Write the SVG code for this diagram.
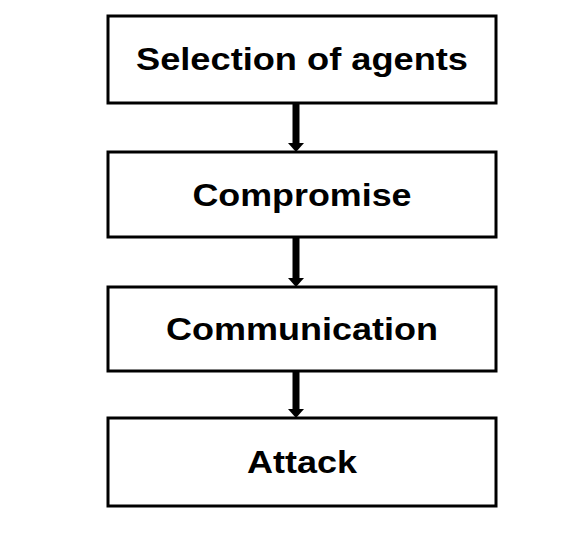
<svg xmlns="http://www.w3.org/2000/svg" width="572" height="542" viewBox="0 0 572 542">
<style>
.box{fill:#fff;stroke:#000;stroke-width:3}
.lbl{font-family:"Liberation Sans",Arial,sans-serif;font-weight:bold;font-size:32px;fill:#000;text-anchor:middle}
.shaft{stroke:#000;stroke-width:7;fill:none}
.head{fill:#000}
</style>
<rect width="572" height="542" fill="#fff"/>
<g id="connectors">
<line class="shaft" x1="296" y1="103" x2="296" y2="145"/>
<polygon class="head" points="288,143 304,143 296,152"/>
<line class="shaft" x1="296" y1="237" x2="296" y2="280"/>
<polygon class="head" points="288,278 304,278 296,287"/>
<line class="shaft" x1="296" y1="371" x2="296" y2="411"/>
<polygon class="head" points="288,409 304,409 296,418"/>
</g>
<g id="n1">
<rect class="box" x="108" y="16" width="388" height="87"/>
<text class="lbl" x="302" y="70" textLength="332" lengthAdjust="spacingAndGlyphs">Selection of agents</text>
</g>
<g id="n2">
<rect class="box" x="108" y="152" width="388" height="85"/>
<text class="lbl" x="302" y="206" textLength="219" lengthAdjust="spacingAndGlyphs">Compromise</text>
</g>
<g id="n3">
<rect class="box" x="108" y="287" width="388" height="84"/>
<text class="lbl" x="302" y="340" textLength="272" lengthAdjust="spacingAndGlyphs">Communication</text>
</g>
<g id="n4">
<rect class="box" x="108" y="418" width="388" height="88"/>
<text class="lbl" x="302" y="473" textLength="110" lengthAdjust="spacingAndGlyphs">Attack</text>
</g>
</svg>
